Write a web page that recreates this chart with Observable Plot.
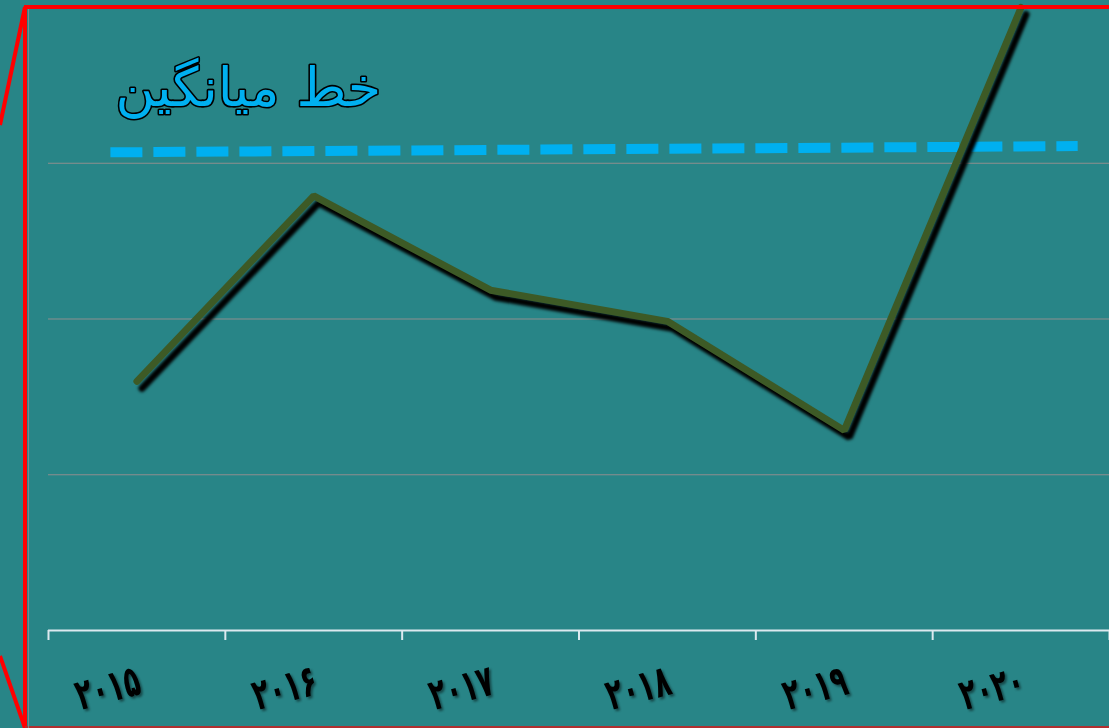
<!DOCTYPE html>
<html>
<head>
<meta charset="utf-8">
<script src="https://cdn.jsdelivr.net/npm/d3@7"></script>
<script src="https://cdn.jsdelivr.net/npm/@observablehq/plot@0.6"></script>
<style>
  html, body { margin: 0; padding: 0; background: #288587; overflow: hidden; }
  #chart svg { display: block; }
</style>
</head>
<body>
<div id="chart"></div>
<script>
// ---- data ----
const years = ["2015", "2016", "2017", "2018", "2019", "2020"];
const yearLabels = ["۲۰۱۵", "۲۰۱۶", "۲۰۱۷", "۲۰۱۸", "۲۰۱۹", "۲۰۲۰"];
const values = [1.6, 2.79, 2.185, 1.985, 1.285, 4.0];
const avgLineX = [0.35, 5.82];
const avgLineY = [3.07, 3.11];
const gridValues = [1, 2, 3];
const tickValues = [0, 1, 2, 3, 4, 5, 6];
const titleText = ["خط میانگین"];
const titlePos = { x: 1.13, y: 3.48 };

const series = years.map((y, i) => ({ year: y, label: yearLabels[i], x: i + 0.5, v: values[i] }));
const avg = avgLineX.map((x, i) => ({ x, y: avgLineY[i] }));

const W = 1109, H = 728;
const svg = Plot.plot({
  width: W,
  height: H,
  marginLeft: 48,
  marginRight: 0,
  marginTop: 7,
  marginBottom: 98,
  style: { background: "#288587", overflow: "visible" },
  x: { type: "linear", domain: [0, 6], axis: null },
  y: { domain: [0, 4], axis: null },
  marks: [
    Plot.ruleY(gridValues, { stroke: "#8e8e8e", strokeWidth: 1 }),
    Plot.axisX({ ticks: tickValues, tickFormat: () => "", tickSize: 10, stroke: "#dce9ef", strokeWidth: 2, label: null }),
    Plot.ruleY([0], { stroke: "#dce9ef", strokeWidth: 2 }),
    Plot.line(avg, { x: "x", y: "y", stroke: "#00b0f0", strokeWidth: 10, strokeDasharray: "32,11", strokeLinecap: "butt" }),
    Plot.line(series, { x: "x", y: "v", stroke: "black", strokeWidth: 7, dx: 5, dy: 7, strokeLinecap: "round", strokeLinejoin: "miter" }),
    Plot.line(series, { x: "x", y: "v", stroke: "#3d5a26", strokeWidth: 7, strokeLinecap: "round", strokeLinejoin: "miter" }),
    Plot.text(titleText, { x: () => titlePos.x, y: () => titlePos.y, text: d => d, fontSize: 54, fontWeight: "normal", fontFamily: "DejaVu Sans", fill: "#00b0f0", stroke: "black", strokeWidth: 3.2, paintOrder: "stroke" }),
    Plot.text(series, { x: "x", y: () => 0, text: "label", dx: -29, dy: 58, rotate: -15, fontSize: 36, fontWeight: "bold", fontFamily: "DejaVu Sans", fill: "#000000" })
  ]
});

d3.select(svg).selectAll('g[stroke="black"]').filter(function () { return this.querySelector("path"); }).style("filter", "blur(1.6px)");
const lbl = d3.select(svg).selectAll('g[fill="#000000"]');
lbl.style("filter", "drop-shadow(2px 2px 1px rgba(0,0,0,0.45))");
lbl.selectAll("text").attr("transform", function () { return this.getAttribute("transform") + " scale(0.74,1.2)"; });

// decorative red frame
const deco = d3.select(svg).append("g").attr("fill", "none").attr("stroke", "#ff0000").attr("stroke-width", 4);
deco.append("line").attr("x1", 24).attr("y1", 7).attr("x2", W).attr("y2", 7);
deco.append("line").attr("x1", 25).attr("y1", 7).attr("x2", 25).attr("y2", H);
deco.append("line").attr("x1", 25).attr("y1", 7).attr("x2", 0).attr("y2", 125);
deco.append("line").attr("x1", 0).attr("y1", 656).attr("x2", 25).attr("y2", H);
deco.append("line").attr("x1", 25).attr("y1", 727).attr("x2", W).attr("y2", 727).attr("stroke", "#b03030").attr("stroke-width", 2);
d3.select(svg).append("line").attr("x1", 28.5).attr("y1", 9).attr("x2", 28.5).attr("y2", H).attr("stroke", "#7a8c8c").attr("stroke-width", 1);

document.getElementById("chart").appendChild(svg);
</script>
</body>
</html>
